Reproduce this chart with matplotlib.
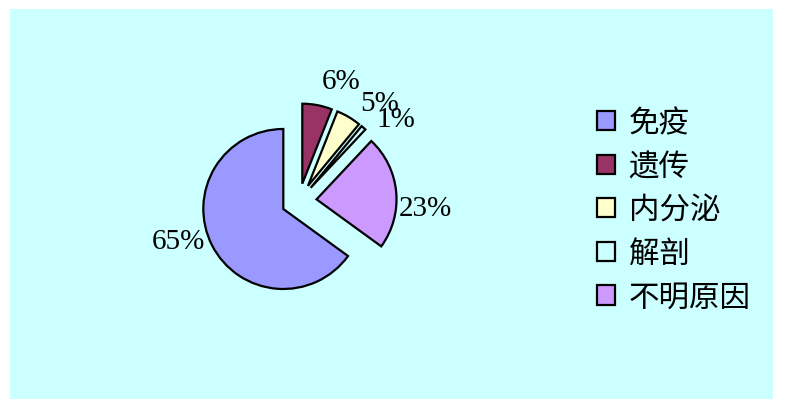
import numpy as np
import matplotlib.pyplot as plt
from matplotlib.patches import Patch

# data
categories = ['免疫', '遗传', '内分泌', '解剖', '不明原因']
values = [65, 6, 5, 1, 23]
colors = ['#9999FF', '#993366', '#FFFFCC', '#CCFFFF', '#CC99FF']
bg = '#CCFFFF'

W, H = 786, 410
fig = plt.figure(figsize=(W / 100, H / 100), dpi=100, facecolor='white')

# cyan plot area
bg_ax = fig.add_axes([10 / W, 10 / H, 763 / W, 390 / H])
bg_ax.set_facecolor(bg)
bg_ax.set_xticks([])
bg_ax.set_yticks([])
for s in bg_ax.spines.values():
    s.set_visible(False)

# pie axes: centre (299, 202) px, radius 80 px
cx, cy, r_px, half = 299, 202, 80, 150
ax = fig.add_axes([(cx - half) / W, (H - cy - half) / H, 2 * half / W, 2 * half / H])
ax.patch.set_alpha(0)

wedges, _ = ax.pie(values, colors=colors, startangle=324, counterclock=False,
                   explode=[0.22] * len(values),
                   wedgeprops=dict(edgecolor='black', linewidth=1.6))
lim = half / r_px
ax.set_xlim(-lim, lim)
ax.set_ylim(-lim, lim)
ax.set_aspect('equal')
ax.axis('off')

# percentage labels, placed from wedge geometry
for w, v in zip(wedges, values):
    mid = np.deg2rad((w.theta1 + w.theta2) / 2 - 10)
    x0, y0 = w.center
    ax.text(x0 + 1.37 * np.cos(mid), y0 + 1.37 * np.sin(mid), f'{v}%',
            ha='center', va='center', fontsize=21,
            family='Liberation Serif', color='black')

handles = [Patch(facecolor=c, edgecolor='black', linewidth=1.6) for c in colors]
fig.legend(handles, categories, loc='upper left',
           bbox_to_anchor=(569 / W, 1 - 81 / H),
           frameon=False, handlelength=0.6, handleheight=0.6,
           handletextpad=0.45, labelspacing=0.41,
           prop={'family': ['Noto Sans CJK SC', 'DejaVu Sans'], 'size': 22})

fig.savefig('out.png', dpi=100, facecolor='white')
